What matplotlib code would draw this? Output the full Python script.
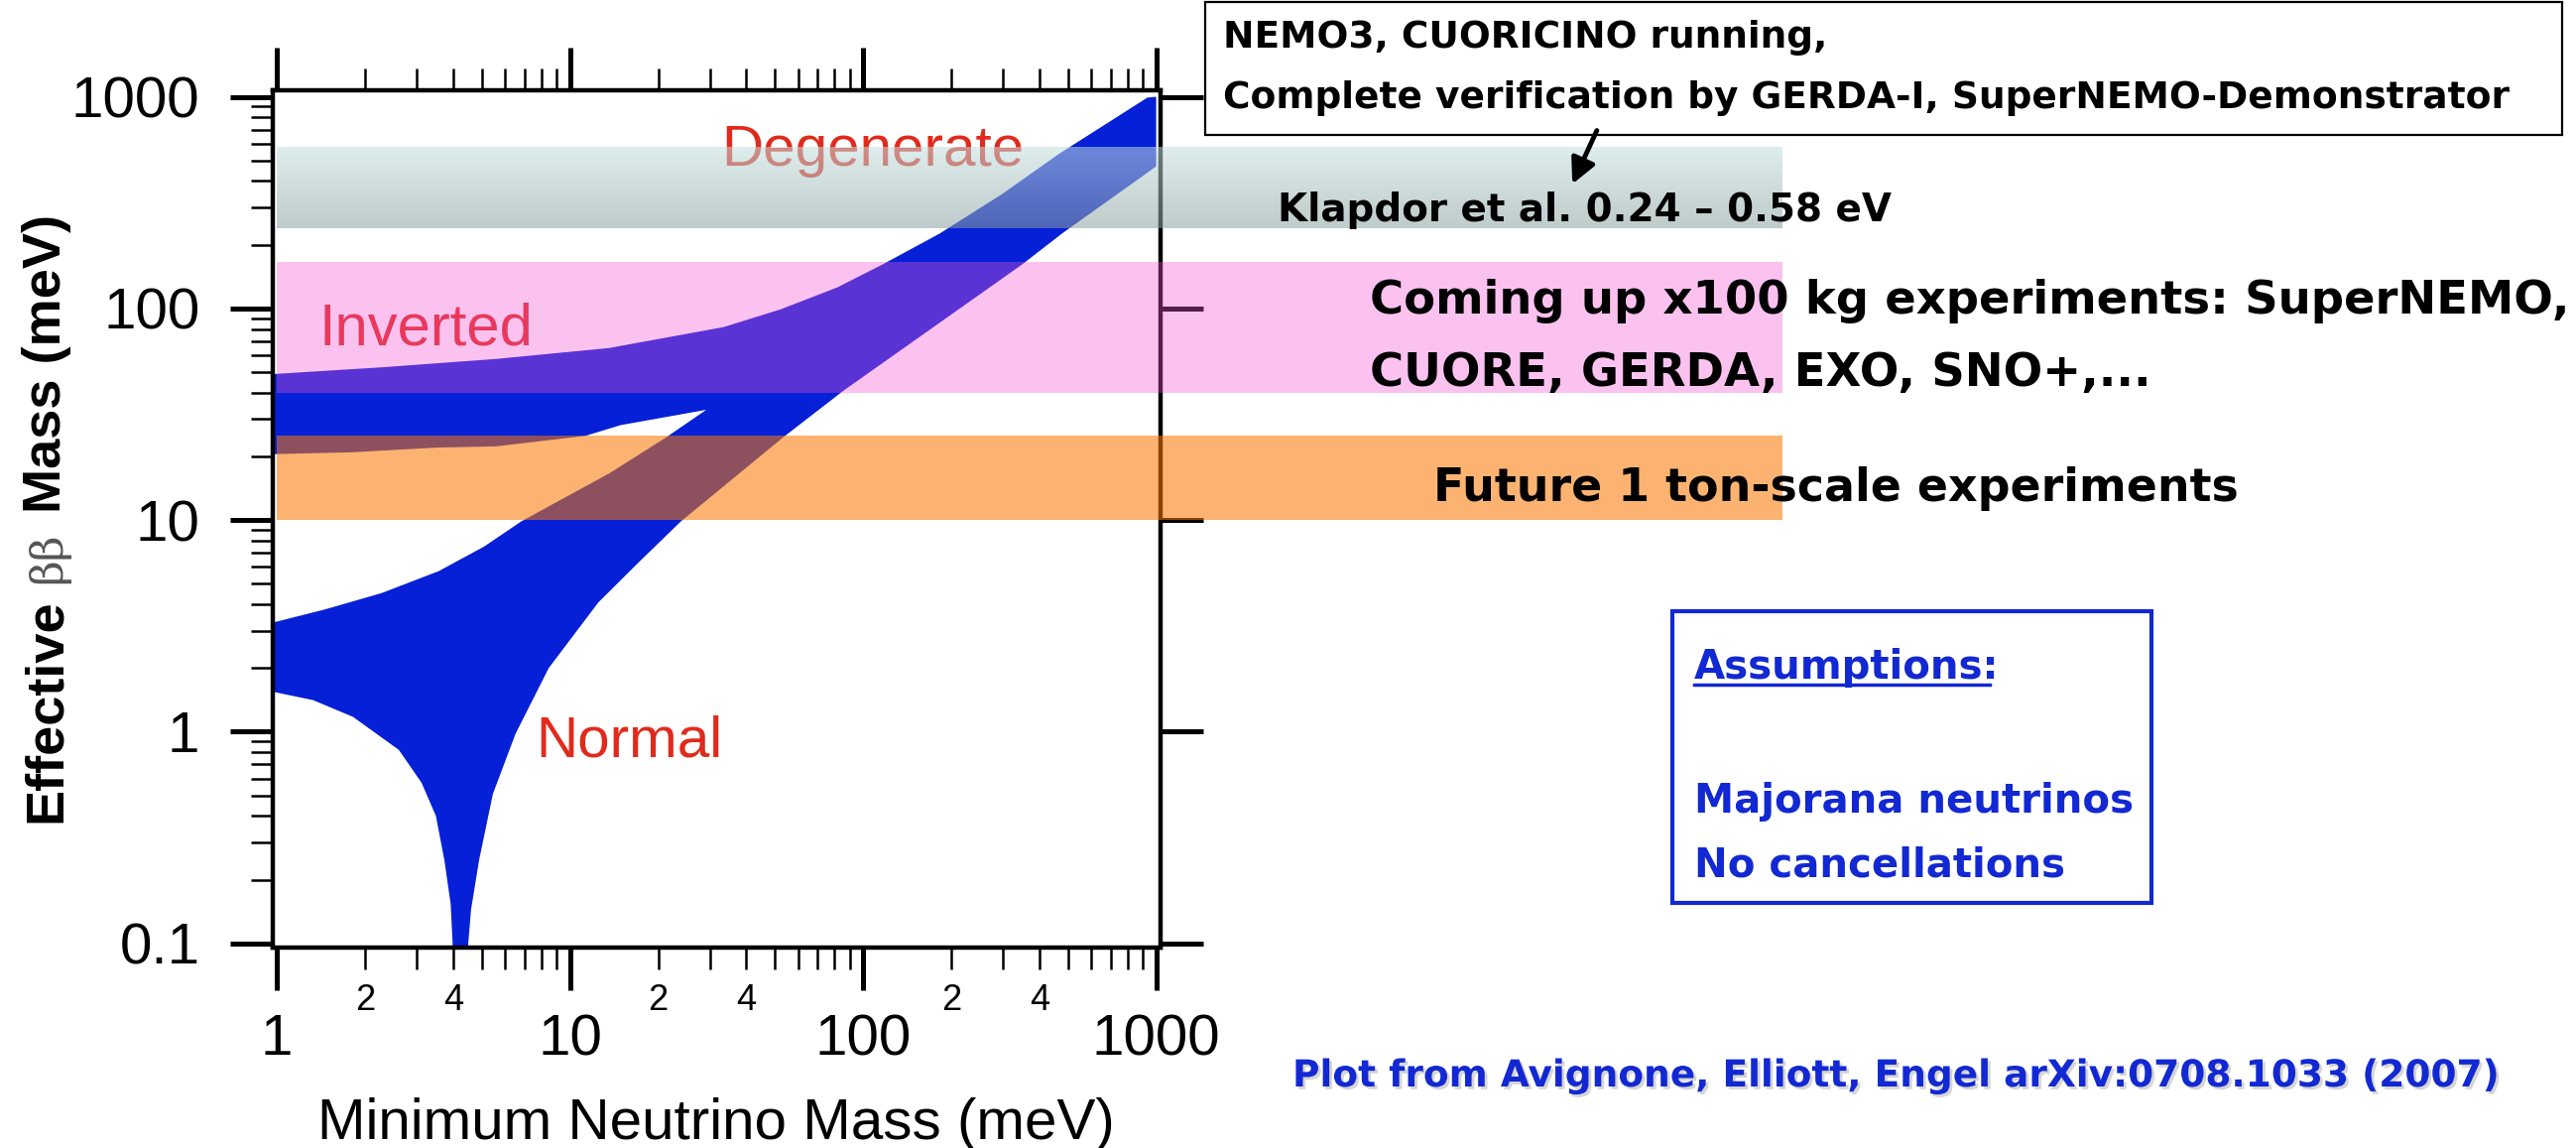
import numpy as np
import matplotlib
matplotlib.use('Agg')
import matplotlib.pyplot as plt
import matplotlib.patheffects as pe
from matplotlib.patches import Polygon, Rectangle, FancyArrowPatch
from matplotlib.lines import Line2D
from matplotlib.ticker import LogLocator, FuncFormatter, NullFormatter

plt.rcParams['font.family'] = ['Liberation Sans', 'DejaVu Sans']

# edges of the allowed m_bb region, (m_min, m_bb) pairs in meV
inv_upper_x = [0.98, 2.28, 5.58, 13.6, 33.4, 52.2, 81.7, 116.8, 182.7, 298.8, 467.2, 934, 1000]
inv_upper_y = [49.0, 52.7, 57.7, 65.0, 81.6, 98.9, 125.7, 161.6, 226, 347.8, 538.6, 992, 1000]

deg_lower_x = [1000, 477.5, 349.4, 85.4, 53.4, 23.9, 17.1, 12.5, 8.47, 6.52, 5.46, 4.90, 4.60, 4.50, 4.48]
deg_lower_y = [469, 226, 161.6, 40.7, 24.6, 9.85, 6.28, 4.08, 2.0, 0.976, 0.508, 0.2475, 0.1444, 0.1, 0.08]

norm_lower_x = [3.98, 3.98, 3.92, 3.73, 3.49, 3.12, 2.61, 1.82, 1.33, 0.98]
norm_lower_y = [0.08, 0.1, 0.153, 0.2475, 0.40, 0.573, 0.820, 1.175, 1.41, 1.54]

norm_upper_x = [0.98, 1.458, 2.28, 3.57, 5.1, 6.82, 13.7, 21.3, 29.2]
norm_upper_y = [3.29, 3.78, 4.52, 5.74, 7.5, 9.85, 16.7, 24.6, 33.2]

inv_lower_x = [29.2, 21.3, 14.9, 11.3, 5.6, 3.5, 1.8, 0.98]
inv_lower_y = [33.2, 30.7, 28.1, 25.0, 22.3, 22.0, 20.9, 20.5]

# sensitivity bands in meV
klapdor_band = (240.0, 580.0)
hundred_kg_band = (40.0, 165.0)
ton_scale_band = (10.0, 25.0)

W, H = 2597, 1157
fig = plt.figure(figsize=(W / 100, H / 100), dpi=100)


def fx(px):
    return px / W


def fy(py):
    return 1 - py / H


ax = fig.add_axes([fx(275), fy(954.6), fx(1170) - fx(275), fy(90.7) - fy(954.6)])
ax.set_xscale('log')
ax.set_yscale('log')
ax.set_xlim(0.969, 1035)
ax.set_ylim(0.0959, 1077)

# allowed region (normal + inverted + degenerate) as one outline
edge_x = inv_upper_x + deg_lower_x + norm_lower_x + norm_upper_x + inv_lower_x
edge_y = inv_upper_y + deg_lower_y + norm_lower_y + norm_upper_y + inv_lower_y
ax.add_patch(Polygon(np.column_stack([edge_x, edge_y]), closed=True,
                     facecolor='#0520d6', edgecolor='none', zorder=1))

red = '#e12a1c'
ax.text(32.8, 474, 'Degenerate', color=red, fontsize=42, zorder=2, va='baseline')
ax.text(1.39, 67, 'Inverted', color=red, fontsize=43, zorder=2, va='baseline')
ax.text(7.64, 0.759, 'Normal', color=red, fontsize=42, zorder=2, va='baseline')

# bands run past the frame into the text area
band_left = 0.004
band_right = (1797 - 275) / (1170 - 275)

edges = np.geomspace(klapdor_band[1], klapdor_band[0], 41)
top_c = np.array([195, 222, 222]) / 255
bot_c = np.array([140, 160, 160]) / 255
for i in range(40):
    c = top_c + (bot_c - top_c) * (i + 0.5) / 40
    ax.axhspan(edges[i + 1], edges[i], xmin=band_left, xmax=band_right, facecolor=c,
               alpha=0.55, lw=0, antialiased=False, clip_on=False, zorder=3)

ax.axhspan(*hundred_kg_band, xmin=band_left, xmax=band_right, facecolor='#f656d5',
           alpha=0.355, lw=0, clip_on=False, zorder=3)
ax.axhspan(*ton_scale_band, xmin=band_left, xmax=band_right, facecolor='#fa7800',
           alpha=0.555, lw=0, clip_on=False, zorder=3)

# frame and ticks
for s in ax.spines.values():
    s.set_linewidth(3.2)

ax.xaxis.set_major_locator(LogLocator(base=10, numticks=10))
ax.xaxis.set_minor_locator(LogLocator(base=10, subs=np.arange(2, 10), numticks=20))
ax.yaxis.set_major_locator(LogLocator(base=10, numticks=10))
ax.yaxis.set_minor_locator(LogLocator(base=10, subs=np.arange(2, 10), numticks=20))


def minor_lab(v, pos):
    m = int(round(v / 10 ** np.floor(np.log10(v) + 1e-9)))
    return str(m) if m in (2, 4) else ''


ax.xaxis.set_major_formatter(FuncFormatter(lambda v, p: f'{v:g}'))
ax.yaxis.set_major_formatter(FuncFormatter(lambda v, p: f'{v:g}'))
ax.xaxis.set_minor_formatter(FuncFormatter(minor_lab))
ax.yaxis.set_minor_formatter(NullFormatter())

ax.tick_params(which='major', direction='out', length=31, width=3.6,
               top=True, right=True, labelsize=42)
ax.tick_params(which='minor', direction='out', length=16, width=1.8, top=True)
ax.tick_params(axis='x', which='major', pad=17)
ax.tick_params(axis='x', which='minor', pad=10, labelsize=26)
ax.tick_params(axis='y', which='major', pad=22)
ax.tick_params(axis='y', which='minor', right=False)

# axis titles
fig.text(fx(722), fy(1148), 'Minimum Neutrino Mass (meV)', fontsize=42,
         ha='center', va='baseline')
fig.text(fx(47), fy(716), 'Effective', rotation=90, fontsize=39, fontweight='bold',
         ha='center', va='center')
fig.text(fx(49), fy(562), 'ββ', rotation=90, fontsize=32, family='DejaVu Serif',
         color='#555555', ha='center', va='center')
fig.text(fx(47), fy(366), 'Mass (meV)', rotation=90, fontsize=39, fontweight='bold',
         ha='center', va='center')

# annotations on the right
hand = dict(family=['DejaVu Sans'], fontweight='bold')
fig.add_artist(Rectangle((fx(1215), fy(136)), fx(2583) - fx(1215), fy(2) - fy(136),
                         transform=fig.transFigure, fill=False, lw=1.6, ec='black'))
fig.text(fx(1233), fy(48), 'NEMO3, CUORICINO running,', fontsize=27, va='baseline', **hand)
fig.text(fx(1233), fy(109), 'Complete verification by GERDA-I, SuperNEMO-Demonstrator',
         fontsize=27, va='baseline', **hand)
fig.add_artist(FancyArrowPatch((fx(1611), fy(129)), (fx(1584), fy(188)),
                               transform=fig.transFigure, arrowstyle='-|>',
                               mutation_scale=38, lw=3.5, color='black'))
fig.text(fx(1288), fy(223), 'Klapdor et al. 0.24 – 0.58 eV', fontsize=28, va='baseline', **hand)
fig.text(fx(1381), fy(316), 'Coming up x100 kg experiments: SuperNEMO,', fontsize=33.5,
         va='baseline', **hand)
fig.text(fx(1381), fy(389), 'CUORE, GERDA, EXO, SNO+,...', fontsize=33.5, va='baseline', **hand)
fig.text(fx(1445), fy(505), 'Future 1 ton-scale experiments', fontsize=33, va='baseline', **hand)

blue_txt = '#1228d2'
fig.add_artist(Rectangle((fx(1686), fy(910)), fx(2169) - fx(1686), fy(616) - fy(910),
                         transform=fig.transFigure, fill=False, lw=3, ec=blue_txt))
fig.text(fx(1708), fy(684), 'Assumptions:', fontsize=29, color=blue_txt, va='baseline', **hand)
fig.add_artist(Line2D([fx(1708), fx(2006)], [fy(690), fy(690)], transform=fig.transFigure,
                      lw=2.5, color=blue_txt))
fig.text(fx(1708), fy(819), 'Majorana neutrinos', fontsize=29, color=blue_txt,
         va='baseline', **hand)
fig.text(fx(1708), fy(884), 'No cancellations', fontsize=29, color=blue_txt,
         va='baseline', **hand)
fig.text(fx(1303), fy(1095), 'Plot from Avignone, Elliott, Engel arXiv:0708.1033 (2007)',
         fontsize=27, color=blue_txt, va='baseline',
         path_effects=[pe.SimplePatchShadow(offset=(2, -2), shadow_rgbFace='#888888', alpha=0.35),
                       pe.Normal()], **hand)

fig.savefig('out.png', dpi=100)
